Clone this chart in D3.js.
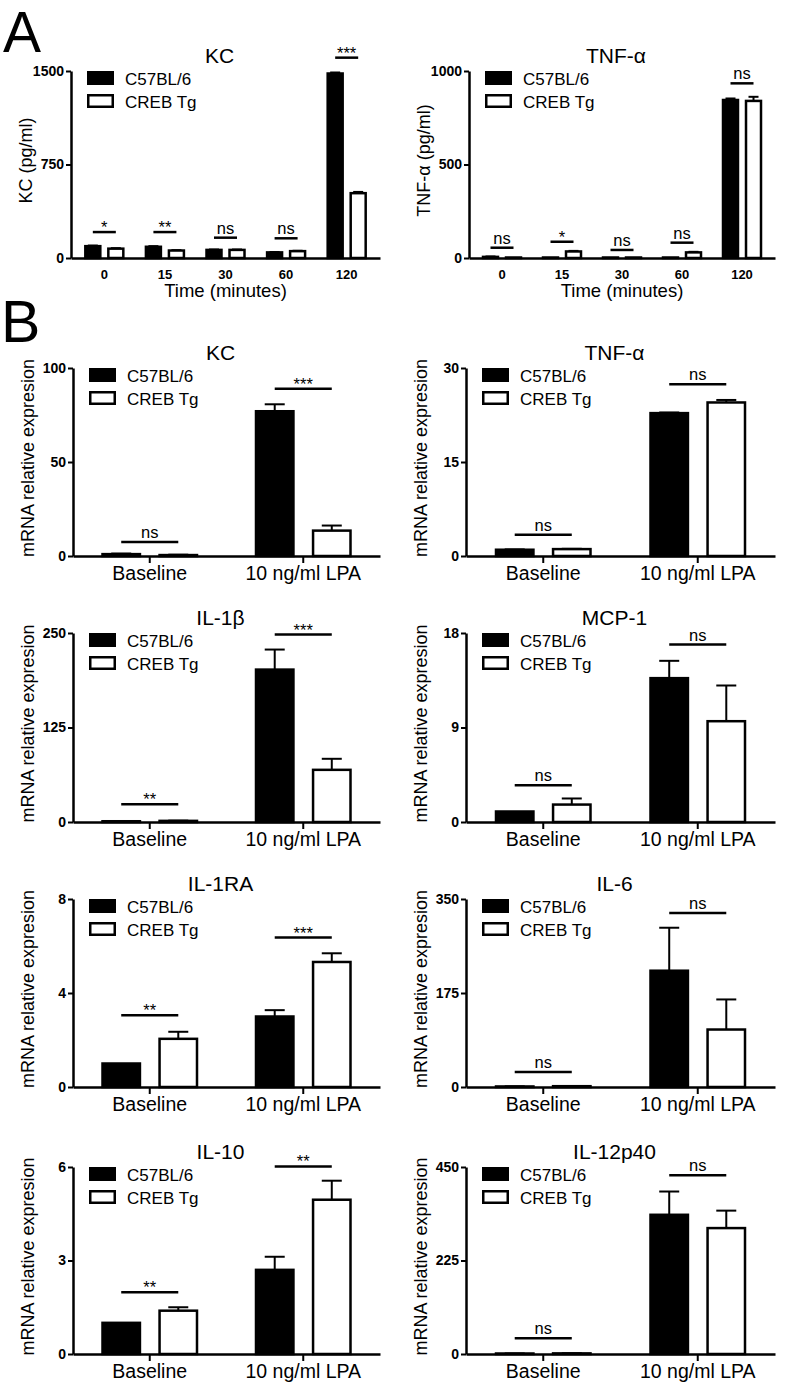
<!DOCTYPE html>
<html><head><meta charset="utf-8">
<script src="https://cdn.jsdelivr.net/npm/d3@7"></script>
<style>
body{margin:0;background:#fff}
svg{display:block}
text{font-family:"Liberation Sans",Arial,Helvetica,sans-serif;fill:#000}
</style>
</head><body>
<svg id="chart" width="786" height="1390"></svg>
<script>
// ---------- DATA ----------
const seriesNames = ["C57BL/6", "CREB Tg"];
const timeLabels = ["0", "15", "30", "60", "120"];
const treatLabels = ["Baseline", "10 ng/ml LPA"];

// Panel A – protein (pg/ml)
const kcProtTicks = [0, 750, 1500];
const kcProtC57 = [95, 90, 65, 45, 1480];
const kcProtC57Err = [5, 5, 3, 3, 8];
const kcProtCreb = [75, 60, 65, 55, 520];
const kcProtCrebErr = [4, 3, 3, 3, 10];
const kcProtSig = [208, 208, 163, 158, 1607];
const kcProtSigLabels = ["*", "**", "ns", "ns", "***"];

const tnfProtTicks = [0, 500, 1000];
const tnfProtC57 = [6, 0, 0, 0, 845];
const tnfProtC57Err = [2, 0, 0, 0, 8];
const tnfProtCreb = [0, 35, 0, 30, 840];
const tnfProtCrebErr = [0, 3, 0, 3, 22];
const tnfProtSig = [55, 87, 43, 82, 934];
const tnfProtSigLabels = ["ns", "*", "ns", "ns", "ns"];

// Panel B – mRNA relative expression
const kcTicks = [0, 50, 100];
const kcC57 = [1, 77];        const kcC57Err = [0.3, 3.7];
const kcCreb = [0.5, 13.5];   const kcCrebErr = [0.2, 2.7];
const kcSig = [7.4, 89];      const kcSigLabels = ["ns", "***"];

const tnfTicks = [0, 15, 30];
const tnfC57 = [1.0, 22.8];   const tnfC57Err = [0.05, 0.1];
const tnfCreb = [1.1, 24.5];  const tnfCrebErr = [0.05, 0.4];
const tnfSig = [3.4, 27.4];   const tnfSigLabels = ["ns", "ns"];

const il1bTicks = [0, 125, 250];
const il1bC57 = [1, 201.6];   const il1bC57Err = [0.2, 26.5];
const il1bCreb = [1.5, 69];   const il1bCrebErr = [0.3, 14.6];
const il1bSig = [23.4, 248];  const il1bSigLabels = ["**", "***"];

const mcpTicks = [0, 9, 18];
const mcpC57 = [1.0, 13.7];   const mcpC57Err = [0, 1.65];
const mcpCreb = [1.66, 9.6];  const mcpCrebErr = [0.58, 3.4];
const mcpSig = [3.5, 16.9];   const mcpSigLabels = ["ns", "ns"];

const il1raTicks = [0, 4, 8];
const il1raC57 = [1.0, 3.0];  const il1raC57Err = [0, 0.27];
const il1raCreb = [2.05, 5.32]; const il1raCrebErr = [0.3, 0.37];
const il1raSig = [3.05, 6.36];  const il1raSigLabels = ["**", "***"];

const il6Ticks = [0, 175, 350];
const il6C57 = [1, 216.5];    const il6C57Err = [0.2, 80];
const il6Creb = [1.5, 107];   const il6CrebErr = [0.3, 56];
const il6Sig = [27.7, 324];   const il6SigLabels = ["ns", "ns"];

const il10Ticks = [0, 3, 6];
const il10C57 = [1.0, 2.7];   const il10C57Err = [0, 0.42];
const il10Creb = [1.39, 4.95]; const il10CrebErr = [0.11, 0.61];
const il10Sig = [1.98, 6.02]; const il10SigLabels = ["**", "**"];

const il12Ticks = [0, 225, 450];
const il12C57 = [1, 335];     const il12C57Err = [0.3, 56];
const il12Creb = [1.5, 303];  const il12CrebErr = [0.3, 42];
const il12Sig = [38, 430];    const il12SigLabels = ["ns", "ns"];

const mrnaLabel = "mRNA relative expresion";

// ---------- PANEL CONFIG (layout) ----------
const panels = [
  {kind:"A", title:"KC", ylab:"KC (pg/ml)", ticks:kcProtTicks, cats:timeLabels, c57:kcProtC57, c57e:kcProtC57Err, creb:kcProtCreb, crebe:kcProtCrebErr, sig:kcProtSig, sigl:kcProtSigLabels, left:71, right:380, top:71, zero:258},
  {kind:"A", title:"TNF-α", ylab:"TNF-α (pg/ml)", ticks:tnfProtTicks, cats:timeLabels, c57:tnfProtC57, c57e:tnfProtC57Err, creb:tnfProtCreb, crebe:tnfProtCrebErr, sig:tnfProtSig, sigl:tnfProtSigLabels, left:469, right:775, top:71, zero:258},
  {kind:"B", title:"KC", ylab:mrnaLabel, ticks:kcTicks, cats:treatLabels, c57:kcC57, c57e:kcC57Err, creb:kcCreb, crebe:kcCrebErr, sig:kcSig, sigl:kcSigLabels, left:73, right:380, top:368, zero:556},
  {kind:"B", title:"TNF-α", ylab:mrnaLabel, ticks:tnfTicks, cats:treatLabels, c57:tnfC57, c57e:tnfC57Err, creb:tnfCreb, crebe:tnfCrebErr, sig:tnfSig, sigl:tnfSigLabels, left:466, right:775, top:368, zero:556},
  {kind:"B", title:"IL-1β", ylab:mrnaLabel, ticks:il1bTicks, cats:treatLabels, c57:il1bC57, c57e:il1bC57Err, creb:il1bCreb, crebe:il1bCrebErr, sig:il1bSig, sigl:il1bSigLabels, left:73, right:380, top:633, zero:822},
  {kind:"B", title:"MCP-1", ylab:mrnaLabel, ticks:mcpTicks, cats:treatLabels, c57:mcpC57, c57e:mcpC57Err, creb:mcpCreb, crebe:mcpCrebErr, sig:mcpSig, sigl:mcpSigLabels, left:466, right:775, top:633, zero:822},
  {kind:"B", title:"IL-1RA", ylab:mrnaLabel, ticks:il1raTicks, cats:treatLabels, c57:il1raC57, c57e:il1raC57Err, creb:il1raCreb, crebe:il1raCrebErr, sig:il1raSig, sigl:il1raSigLabels, left:73, right:380, top:899, zero:1087},
  {kind:"B", title:"IL-6", ylab:mrnaLabel, ticks:il6Ticks, cats:treatLabels, c57:il6C57, c57e:il6C57Err, creb:il6Creb, crebe:il6CrebErr, sig:il6Sig, sigl:il6SigLabels, left:466, right:775, top:899, zero:1087},
  {kind:"B", title:"IL-10", ylab:mrnaLabel, ticks:il10Ticks, cats:treatLabels, c57:il10C57, c57e:il10C57Err, creb:il10Creb, crebe:il10CrebErr, sig:il10Sig, sigl:il10SigLabels, left:73, right:380, top:1167, zero:1354},
  {kind:"B", title:"IL-12p40", ylab:mrnaLabel, ticks:il12Ticks, cats:treatLabels, c57:il12C57, c57e:il12C57Err, creb:il12Creb, crebe:il12CrebErr, sig:il12Sig, sigl:il12SigLabels, left:466, right:775, top:1167, zero:1354}
];

const svg = d3.select("#chart");
svg.append("rect").attr("width",786).attr("height",1390).attr("fill","#fff");

svg.append("text").attr("x",3).attr("y",52).attr("font-size",57).text("A");
svg.append("text").attr("x",1).attr("y",342).attr("font-size",59).text("B");

const LW = 2.5;
const FF = '"Liberation Sans",Arial,sans-serif';

panels.forEach(p => {
  const w = p.right - p.left;
  const g = svg.append("g").attr("transform", `translate(${p.left},0)`);
  const y = d3.scaleLinear().domain([0, p.ticks[p.ticks.length-1]]).range([p.zero, p.top]);
  const isA = p.kind === "A";
  const x0 = d3.scaleBand().domain(p.cats).range([0, w]).paddingInner(0).paddingOuter(isA ? 0.05 : 0);
  const hw = isA ? 20.25 : 48.5;
  const x1 = d3.scaleBand().domain(seriesNames).range([-hw, hw]).paddingInner(isA ? 0.24 : 0.3);
  const bw = x1.bandwidth();
  const capW = isA ? 10 : 20;

  const rows = [];
  p.cats.forEach((c, i) => {
    rows.push({cat:c, s:seriesNames[0], v:p.c57[i], e:p.c57e[i], fill:"#000"});
    rows.push({cat:c, s:seriesNames[1], v:p.creb[i], e:p.crebe[i], fill:"#fff"});
  });
  const cx = d => x0(d.cat) + x0.bandwidth()/2 + x1(d.s) + bw/2;

  // error bars
  rows.filter(d => d.e > 0).forEach(d => {
    const c = cx(d);
    g.append("line").attr("x1",c).attr("x2",c).attr("y1",y(d.v)).attr("y2",y(d.v + d.e))
      .attr("stroke","#000").attr("stroke-width",2);
    g.append("line").attr("x1",c - capW/2).attr("x2",c + capW/2).attr("y1",y(d.v + d.e)).attr("y2",y(d.v + d.e))
      .attr("stroke","#000").attr("stroke-width",2);
  });

  // bars
  g.selectAll("rect.bar").data(rows).join("rect").attr("class","bar")
    .attr("x", d => cx(d) - bw/2 + LW/2)
    .attr("width", bw - LW)
    .attr("y", d => Math.min(y(d.v), p.zero - 0.5))
    .attr("height", d => Math.max(p.zero - y(d.v), 0.5))
    .attr("fill", d => d.fill).attr("stroke","#000").attr("stroke-width",LW);

  // significance lines
  p.cats.forEach((c, i) => {
    const xa = x0(c) + x0.bandwidth()/2 + x1(seriesNames[0]) + bw/2;
    const xb = x0(c) + x0.bandwidth()/2 + x1(seriesNames[1]) + bw/2;
    const yy = y(p.sig[i]);
    g.append("line").attr("x1",xa).attr("x2",xb).attr("y1",yy).attr("y2",yy)
      .attr("stroke","#000").attr("stroke-width",2.5);
    const lab = p.sigl[i];
    const star = lab.indexOf("*") >= 0;
    g.append("text").attr("x",(xa+xb)/2).attr("y", star ? yy + 1 : yy - 4)
      .attr("text-anchor","middle").attr("font-size",16.5).text(lab);
  });

  // y axis
  const ya = g.append("g").call(d3.axisLeft(y).tickValues(p.ticks).tickFormat(d => String(d))
    .tickSize(5).tickSizeOuter(0).tickPadding(2));
  ya.select(".domain").attr("stroke-width",LW);
  ya.selectAll(".tick line").attr("stroke-width",2);
  ya.selectAll(".tick text").attr("font-size",14).attr("font-weight","bold").attr("font-family",FF);

  // x axis
  const xa = g.append("g").attr("transform",`translate(0,${p.zero})`)
    .call(d3.axisBottom(x0).tickSize(isA ? 0 : 7).tickSizeOuter(0).tickPadding(isA ? 12 : 3.5));
  xa.select(".domain").attr("stroke-width",LW);
  xa.selectAll(".tick line").attr("stroke-width",2);
  xa.selectAll(".tick text")
    .attr("font-size", isA ? 13 : 19.5)
    .attr("font-weight", isA ? "bold" : "normal")
    .attr("font-family",FF);

  // title
  g.append("text").attr("x", w/2 - 6).attr("y", p.top - 8).attr("text-anchor","middle")
    .attr("font-size",21).text(p.title);

  // y label
  g.append("text").attr("transform",`translate(-39,${(p.top + p.zero)/2 - 4}) rotate(-90)`)
    .attr("text-anchor","middle").attr("font-size",18).text(p.ylab);

  // x title for A
  if (isA) {
    g.append("text").attr("x", w/2).attr("y", p.zero + 39).attr("text-anchor","middle")
      .attr("font-size",18.5).text("Time (minutes)");
  }

  // legend
  seriesNames.forEach((s, i) => {
    g.append("rect").attr("x",16 + LW/2).attr("y",p.top + i*23 + LW/2).attr("width",27 - LW).attr("height",14 - LW)
      .attr("fill", i === 0 ? "#000" : "#fff").attr("stroke","#000").attr("stroke-width",LW);
    g.append("text").attr("x",54).attr("y",p.top + 14 + i*23).attr("font-size",17).text(s);
  });
});
</script>
</body></html>
